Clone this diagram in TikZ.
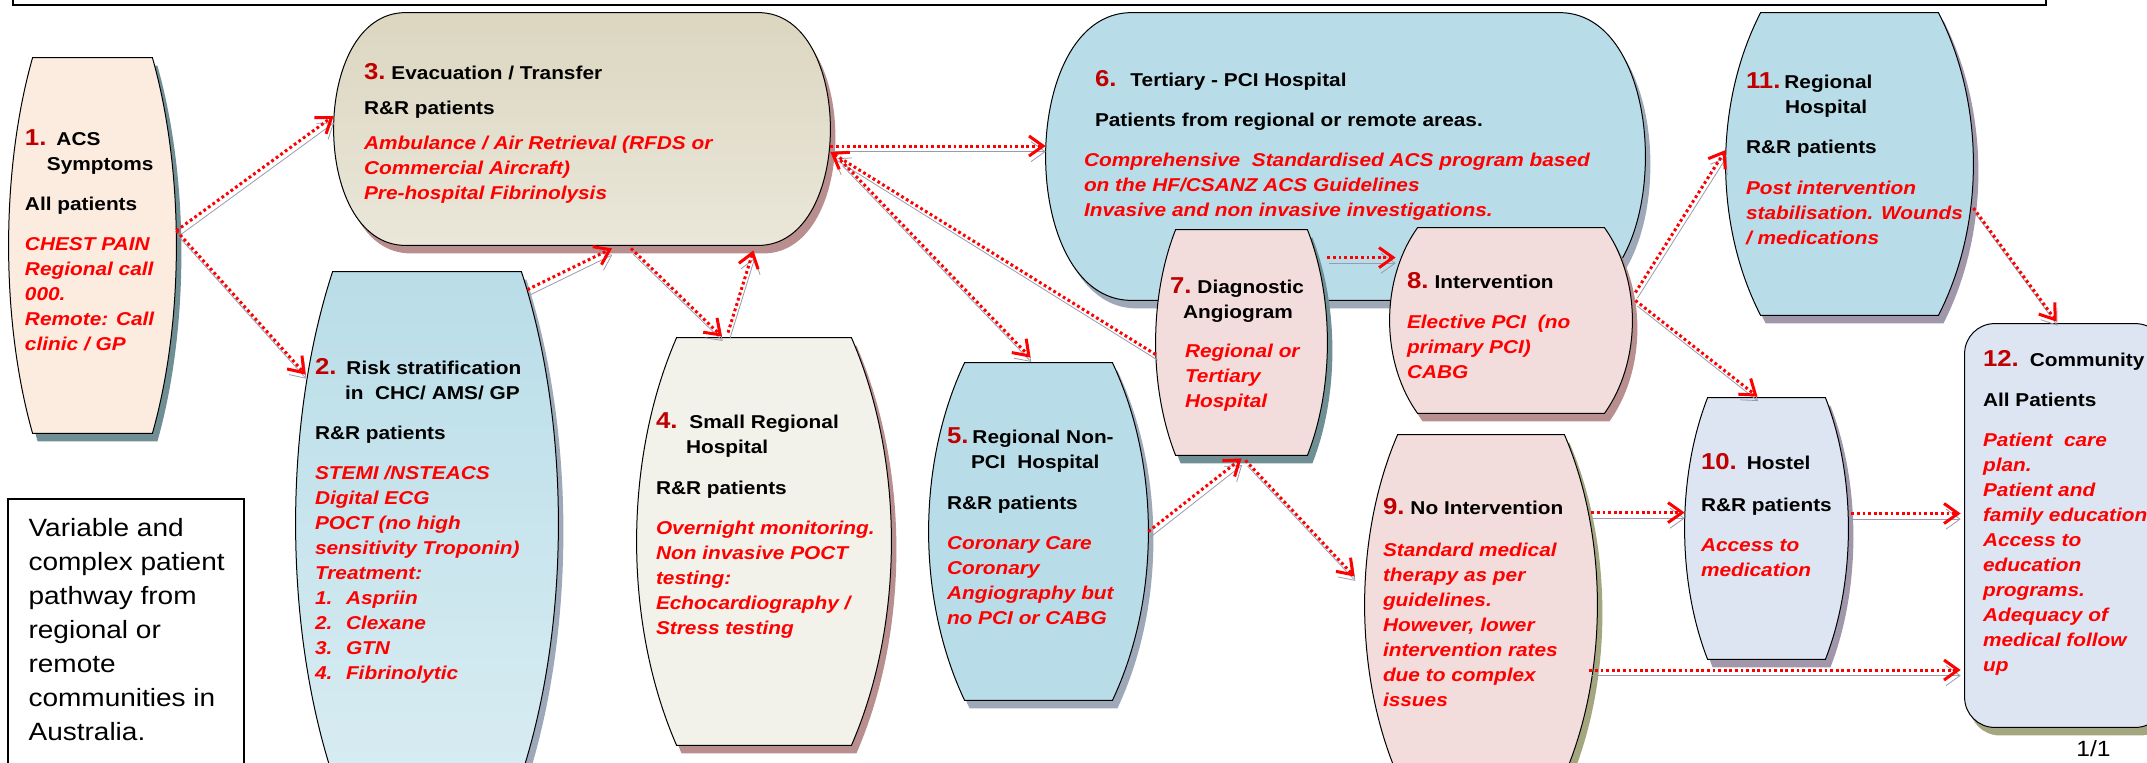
\documentclass[tikz,border=0pt]{standalone}
\usepackage{fontspec}
\setmainfont{Liberation Sans}[FakeStretch=1.12]
\usetikzlibrary{arrows.meta,calc,fit}

\definecolor{acsred}{HTML}{FF0000}
\definecolor{numred}{HTML}{C00000}
\definecolor{flowshadow}{HTML}{9A9AAE}
\definecolor{peach}{HTML}{FCEBDF}
\definecolor{skyA}{HTML}{B9DDE8}
\definecolor{skyB}{HTML}{D8ECF2}
\definecolor{sandA}{HTML}{DCD6C0}
\definecolor{sandB}{HTML}{EAE7DA}
\definecolor{ivory}{HTML}{F2F1EA}
\definecolor{rose}{HTML}{F2DDDC}
\definecolor{mist}{HTML}{DCE5F1}
\definecolor{shteal}{HTML}{6F8F95}
\definecolor{shbrown}{HTML}{B88E8E}
\definecolor{shgrey}{HTML}{9DA8B8}
\definecolor{sholive}{HTML}{A3A67F}
\definecolor{shmauve}{HTML}{A097AB}

% outline of a box with bulging sides, built from the let-points \p1 (sw) and \p2 (ne)
\newcommand{\barrelpath}[2]{(\x1+\n1#1,\y2#2) -- (\x2-\n1#1,\y2#2)
  .. controls (\x2+\n1/3#1,\y2-\n2#2) and (\x2+\n1/3#1,\y1+\n2#2) .. (\x2-\n1#1,\y1#2)
  -- (\x1+\n1#1,\y1#2)
  .. controls (\x1-\n1/3#1,\y1+\n2#2) and (\x1-\n1/3#1,\y2-\n2#2) .. cycle}
% #1 node, #2 inset of the flat top, #3 steepness of the sides, #4 fill, #5 shadow
\newcommand{\barrel}[5]{%
  \path[fill=#5] let \p1=(#1.south west), \p2=(#1.north east),
    \n1={#2*0.5pt}, \n2={(\y2-\y1)*#3} in \barrelpath{+2.5pt}{-4pt};
  \path[draw=black, line width=0.5pt, #4] let \p1=(#1.south west), \p2=(#1.north east),
    \n1={#2*0.5pt}, \n2={(\y2-\y1)*#3} in \barrelpath{+0pt}{+0pt};
}
\newcommand{\stepno}[1]{{\fontsize{11.5}{12.5}\selectfont\color{numred}#1}}
\newcommand{\rl}[1]{{\color{acsred}\itshape #1}}

\begin{document}
\begin{tikzpicture}[x=0.5pt, y=-0.5pt,
    area/.style={inner sep=0pt},
    txt/.style={anchor=north west, inner sep=0pt, align=left,
      font=\fontsize{9.3}{12.5}\selectfont\bfseries},
    flow/.style={draw=acsred, line width=1.5pt, dash pattern=on 1.4pt off 1.4pt,
      -{Straight Barb[length=7pt,width=10pt,line width=1.5pt]},
      preaction={draw=flowshadow, transform canvas={shift={(1pt,-2.8pt)}}}}
  ]
  \useasboundingbox (0,0) rectangle (2147,762);

  % areas
  \node[area, fit={(9,58) (176,433)}] (n1) {};
  \node[area, fit={(296,272) (558,775)}] (n2) {};
  \node[area, fit={(334,13) (830,245)}] (n3) {};
  \node[area, fit={(637,338) (891,745)}] (n4) {};
  \node[area, fit={(929,363) (1148,700)}] (n5) {};
  \node[area, fit={(1046,13) (1645,300)}] (n6) {};
  \node[area, fit={(1156,230) (1327,455)}] (n7) {};
  \node[area, fit={(1390,228) (1632,413)}] (n8) {};
  \node[area, fit={(1365,435) (1597,775)}] (n9) {};
  \node[area, fit={(1685,398) (1848,659)}] (n10) {};
  \node[area, fit={(1726,13) (1973,315)}] (n11) {};
  \node[area, fit={(1965,324) (2165,727)}] (n12) {};

  \barrel{n1}{24}{0.3}{fill=peach}{shteal}
  \barrel{n2}{37}{0.3}{top color=skyA, bottom color=skyB}{shgrey}
  \barrel{n3}{72}{0}{top color=sandA, bottom color=sandB}{shbrown}
  \barrel{n4}{40}{0.3}{fill=ivory}{shbrown}
  \barrel{n5}{36}{0.3}{fill=skyA}{shgrey}
  \barrel{n6}{86}{0}{fill=skyA}{shgrey}
  \barrel{n7}{20}{0.3}{fill=rose}{shteal}
  \barrel{n8}{28}{0.28}{fill=rose}{shbrown}
  \barrel{n9}{33}{0.3}{fill=rose}{sholive}
  \barrel{n10}{23}{0.3}{fill=mist}{shmauve}
  \barrel{n11}{35}{0.3}{fill=skyA}{shmauve}
  \path[fill=sholive, rounded corners=15pt] ($(n12.south west)+(2.5pt,-4pt)$) rectangle ($(n12.north east)+(2.5pt,-4pt)$);
  \path[draw=black, line width=0.5pt, fill=mist, rounded corners=15pt] (n12.south west) rectangle (n12.north east);

  % texts
  \node[txt] (t1) at ($(n1.north west)+(16,72)$) {\stepno{1.}\hspace{5pt}ACS\\\hspace*{11pt}Symptoms\\[7.5pt]All patients\\[7.5pt]\rl{CHEST PAIN}\\\rl{Regional call}\\\rl{000.}\\\rl{Remote: Call}\\\rl{clinic / GP}};
  \node[txt] (t2) at ($(n2.north west)+(19,86)$) {\stepno{2.}\hspace{5pt}Risk stratification\\\hspace*{15pt}in\ \ CHC/ AMS/ GP\\[7.5pt]R\&R patients\\[7.5pt]\rl{STEMI /NSTEACS}\\\rl{Digital ECG}\\\rl{POCT (no high}\\\rl{sensitivity Troponin)}\\\rl{Treatment:}\\\rl{\makebox[15.5pt][l]{1.}Aspriin}\\\rl{\makebox[15.5pt][l]{2.}Clexane}\\\rl{\makebox[15.5pt][l]{3.}GTN}\\\rl{\makebox[15.5pt][l]{4.}Fibrinolytic}};
  \node[txt] (t3) at ($(n3.north west)+(30,50)$) {\stepno{3.}\hspace{3pt}Evacuation / Transfer\\[5pt]R\&R patients\\[5pt]\rl{Ambulance / Air Retrieval (RFDS or}\\\rl{Commercial Aircraft)}\\\rl{Pre-hospital Fibrinolysis}};
  \node[txt] (t4) at ($(n4.north west)+(19,75)$) {\stepno{4.}\hspace{6pt}Small Regional\\\hspace*{15pt}Hospital\\[8pt]R\&R patients\\[7.5pt]\rl{Overnight monitoring.}\\\rl{Non invasive POCT}\\\rl{testing:}\\\rl{Echocardiography /}\\\rl{Stress testing}};
  \node[txt] (t5) at ($(n5.north west)+(18,65)$) {\stepno{5.}\hspace{2pt}Regional Non-\\\hspace*{12pt}PCI\ \ Hospital\\[8pt]R\&R patients\\[7.5pt]\rl{Coronary Care}\\\rl{Coronary}\\\rl{Angiography but}\\\rl{no PCI or CABG}};
  \node[txt] (t6) at ($(n6.north west)+(38,57)$) {\hspace*{5.5pt}\stepno{6.}\hspace{7pt}Tertiary - PCI Hospital\\[7.5pt]\hspace*{5.5pt}Patients from regional or remote areas.\\[7.5pt]\rl{Comprehensive\ \ Standardised ACS program based}\\\rl{on the HF/CSANZ ACS Guidelines}\\\rl{Invasive and non invasive investigations.}};
  \node[txt] (t7) at ($(n7.north west)+(14,48)$) {\stepno{7.}\hspace{3pt}Diagnostic\\\hspace*{6.5pt}Angiogram\\[7pt]\hspace*{7.5pt}\rl{Regional or}\\\hspace*{7.5pt}\rl{Tertiary}\\\hspace*{7.5pt}\rl{Hospital}};
  \node[txt] (t8) at ($(n8.north west)+(17,44)$) {\stepno{8.}\hspace{3pt}Intervention\\[7.5pt]\rl{Elective PCI\ \ (no}\\\rl{primary PCI)}\\\rl{CABG}};
  \node[txt] (t9) at ($(n9.north west)+(18,63)$) {\stepno{9.}\hspace{3pt}No Intervention\\[8.5pt]\rl{Standard medical}\\\rl{therapy as per}\\\rl{guidelines.}\\\rl{However, lower}\\\rl{intervention rates}\\\rl{due to complex}\\\rl{issues}};
  \node[txt] (t10) at ($(n10.north west)+(16,55)$) {\stepno{10.}\hspace{5pt}Hostel\\[8.5pt]R\&R patients\\[7.5pt]\rl{Access to}\\\rl{medication}};
  \node[txt] (t11) at ($(n11.north west)+(20,60)$) {\stepno{11.}\hspace{2pt}Regional\\\hspace*{19.5pt}Hospital\\[7.5pt]R\&R patients\\[8pt]\rl{Post intervention}\\\rl{stabilisation. Wounds}\\\rl{/ medications}};
  \node[txt] (t12) at ($(n12.north west)+(18,26)$) {\stepno{12.}\hspace{5.5pt}Community\\[7.5pt]All Patients\\[7.5pt]\rl{Patient\ \ care}\\\rl{plan.}\\\rl{Patient and}\\\rl{family education}\\\rl{Access to}\\\rl{education}\\\rl{programs.}\\\rl{Adequacy of}\\\rl{medical follow}\\\rl{up}};

  % pathways
  \draw[flow] (n1.10) -- (n3.177);
  \draw[flow] (n1.10) -- ($(n2.north west)+(10,103)$);
  \draw[flow] ($(n2.north east)+(-31,18)$) -- ($(n3.south)+(30,3)$);
  \draw[flow] ($(n3.south)+(49,3)$) -- ($(n4.north)+(-42,-1)$);
  \draw[flow] ($(n4.north)+(-36,-5)$) -- ($(n3.south east)+(-77,5)$);
  \draw[flow] ($(n3.east)+(0,17)$) coordinate (e3) -- (e3 -| n6.west);
  \draw[flow] ($(n7.west)+(0,12)$) -- ($(n3.east)+(0,23)$);
  \draw[flow] ($(n3.east)+(10,31)$) -- ($(n5.north)+(-8,-5)$);
  \draw[flow] ($(n7.north east)+(0,28)$) coordinate (e7) -- ($(e7 -| n8.west)+(6,0)$);
  \draw[flow] (n5.east) -- ($(n7.south)+(0,3)$);
  \draw[flow] ($(n7.south)+(4,5)$) -- ($(n9.north west)+(-10,142)$);
  \draw[flow] ($(n8.east)+(3,-28)$) -- ($(n11.west)+(0,-14)$);
  \draw[flow] ($(n8.east)+(3,-20)$) -- ($(n10.north)+(-9,-1)$);
  \draw[flow] ($(n11.east)+(0,44)$) -- ($(n12.north west)+(92,-2)$);
  \draw[flow] ($(n9.north east)+(-6,78)$) coordinate (e9) -- (e9 -| n10.west);
  \draw[flow] ($(n10.east)+(3,-15)$) coordinate (e10) -- ($(e10 -| n12.west)+(-4,0)$);
  \draw[flow] ($(n9.east)+(-8,65)$) coordinate (f9) -- ($(f9 -| n12.west)+(-4,0)$);

  % frame, note and page number
  \draw[line width=1pt] (13,-40) rectangle (2046,5);
  \node[area, draw, line width=0.8pt, fit={(8,499) (244,800)}] (note) {};
  \node[txt, font=\fontsize{12.5}{17}\selectfont] (tnote) at ($(note.north west)+(21,20)$) {Variable and\\complex patient\\pathway from\\regional or\\remote\\communities in\\Australia.};
  \node[txt, font=\fontsize{11}{12}\selectfont] (pg) at (2076,740) {1/1};
\end{tikzpicture}
\end{document}
